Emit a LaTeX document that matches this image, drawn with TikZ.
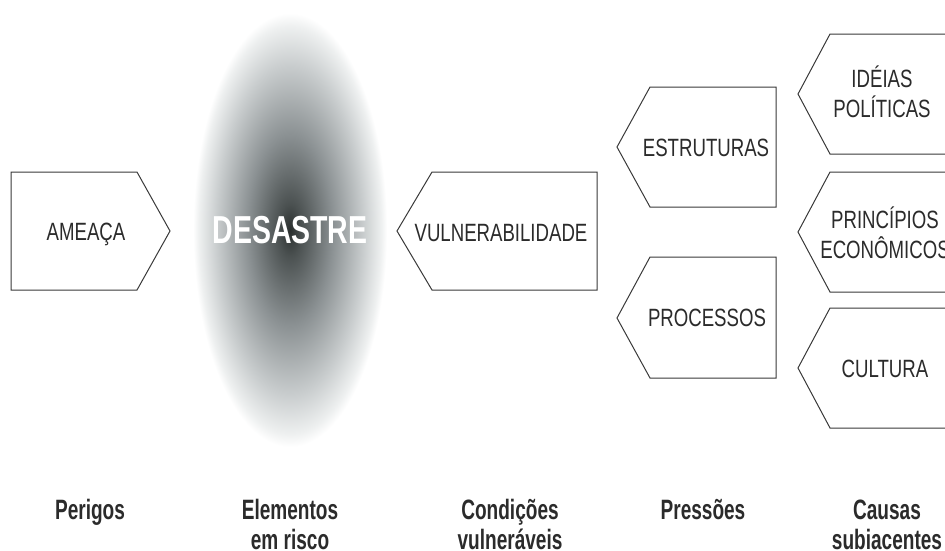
\documentclass[tikz,border=0pt]{standalone}
\usepackage{fontspec}
\setmainfont{Liberation Sans}
\newfontfamily\boxfont{Liberation Sans}[FakeStretch=0.745]
\newfontfamily\labfont{Liberation Sans}[FakeStretch=0.68]
\newfontfamily\disfont{Liberation Sans}[FakeStretch=0.73]
\definecolor{edge}{HTML}{3A3A3A}
\definecolor{ink}{HTML}{2B2B2B}
\definecolor{sh0}{HTML}{2A2F2E}
\definecolor{sh1}{HTML}{4B5151}
\definecolor{sh2}{HTML}{8B9193}
\definecolor{sh3}{HTML}{C9CDCE}
\definecolor{sh4}{HTML}{EEF0F0}
\pgfdeclareradialshading{disaster}{\pgfpoint{0bp}{0bp}}{%
  color(0bp)=(sh0); color(3bp)=(sh1); color(11bp)=(sh2); color(19bp)=(sh3);
  color(23.5bp)=(sh4); color(25bp)=(white); color(50bp)=(white)}
\tikzset{
  box/.style={draw=edge, line width=1pt, line join=miter},
  boxtext/.style={inner sep=0pt, text=ink, align=center, anchor=base,
    font={\boxfont\fontsize{25}{30}\selectfont}},
  label/.style={inner sep=0pt, text=ink, align=center, anchor=base,
    font={\labfont\bfseries\fontsize{28}{30}\selectfont}},
}
\begin{document}
\begin{tikzpicture}[x=1pt, y=-1pt]
\clip (0,0) rectangle (945,550);
\fill[white] (0,0) rectangle (945,550);
% disaster ellipse
\shade[shading=disaster] (290,230) ellipse [x radius=97pt, y radius=217pt];
\node[inner sep=0pt, anchor=base, text=white, font={\disfont\bfseries\fontsize{39}{40}\selectfont}] (desastre) at (290,243) {DESASTRE};
% boxes
\draw[box] (11,172) -- (137,172) -- (170,231) -- (137,290) -- (11,290) -- cycle;
\node[boxtext] (ameaca) at (86,240) {AMEAÇA};
\draw[box] (432,172) -- (597,172) -- (597,290) -- (432,290) -- (397,231) -- cycle;
\node[boxtext] (vuln) at (501,241) {VULNERABILIDADE};
\draw[box] (650,87) -- (776,87) -- (776,207) -- (650,207) -- (617,147) -- cycle;
\node[boxtext] (estr) at (706,156) {ESTRUTURAS};
\draw[box] (650,257) -- (776,257) -- (776,378) -- (650,378) -- (617,318) -- cycle;
\node[boxtext] (proc) at (707,326) {PROCESSOS};
\draw[box] (960,34) -- (830,34) -- (798,94) -- (830,154) -- (960,154);
\node[boxtext] (ideias) at (882,117) {IDÉIAS\\POLÍTICAS};
\draw[box] (960,172) -- (830,172) -- (798,232) -- (830,292) -- (960,292);
\node[boxtext] (princ) at (885,258) {PRINCÍPIOS\\ECONÔMICOS};
\draw[box] (960,308) -- (830,308) -- (798,368) -- (830,428) -- (960,428);
\node[boxtext] (cult) at (885,377) {CULTURA};
% bottom labels
\node[label] (perigos) at (90,519) {Perigos};
\node[label] (elem) at (290,549) {Elementos\\em risco};
\node[label] (cond) at (510,549) {Condições\\vulneráveis};
\node[label] (press) at (703,519) {Pressões};
\node[label] (causas) at (887,549) {Causas\\subiacentes};
\end{tikzpicture}
\end{document}
